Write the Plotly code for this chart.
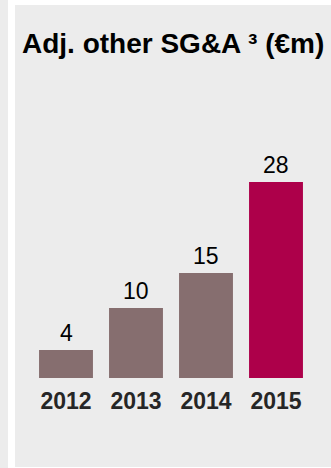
import plotly.graph_objects as go

years = ["2012", "2013", "2014", "2015"]
values = [4, 10, 15, 28]
colors = ["#866E6F", "#866E6F", "#866E6F", "#AD004A"]
title = "Adj. other SG&A ³ (€m)"

W, H = 331, 468
fig = go.Figure()
fig.add_trace(go.Bar(x=years, y=values, marker=dict(color=colors, line=dict(width=0)),
                     hoverinfo="skip"))

for i, v in enumerate(values):
    fig.add_annotation(x=i, y=v, xref="x", yref="y", text=str(v), showarrow=False,
                       yanchor="bottom", yshift=2,
                       font=dict(family="Liberation Sans, Arial", size=23, color="#000000"))

fig.add_annotation(x=20 / W, y=1 - 43 / H, xref="paper", yref="paper", text="<b>" + title + "</b>",
                   showarrow=False, xanchor="left", yanchor="middle",
                   font=dict(family="Liberation Sans, Arial", size=28, color="#000000"))

# background panels
fig.add_shape(type="rect", xref="paper", yref="paper", x0=0, x1=8 / W, y0=0, y1=1,
              fillcolor="#ECECEC", line=dict(width=0), layer="below")
fig.add_shape(type="rect", xref="paper", yref="paper", x0=15 / W, x1=1, y0=1 / H, y1=1 - 5 / H,
              fillcolor="#ECECEC", line=dict(width=0), layer="below")

fig.update_layout(
    width=W, height=H, margin=dict(l=0, r=0, t=0, b=0, autoexpand=False),
    paper_bgcolor="#FFFFFF", plot_bgcolor="rgba(0,0,0,0)",
    showlegend=False, bargap=0.23,
    xaxis=dict(type="category", range=[-0.5, 3.5], domain=[31 / W, 311 / W], showgrid=False,
               zeroline=False, showline=False, automargin=False,
               ticks="", tickfont=dict(family="Liberation Sans, Arial", size=23, color="#262626",
                                       weight="bold"),
               ticklabelstandoff=7, fixedrange=True),
    yaxis=dict(domain=[(H - 378) / H, (H - 140) / H], range=[0, 34], showgrid=False,
               zeroline=False, showline=False, showticklabels=False, fixedrange=True,
               automargin=False),
)

fig.write_html("out.html")
